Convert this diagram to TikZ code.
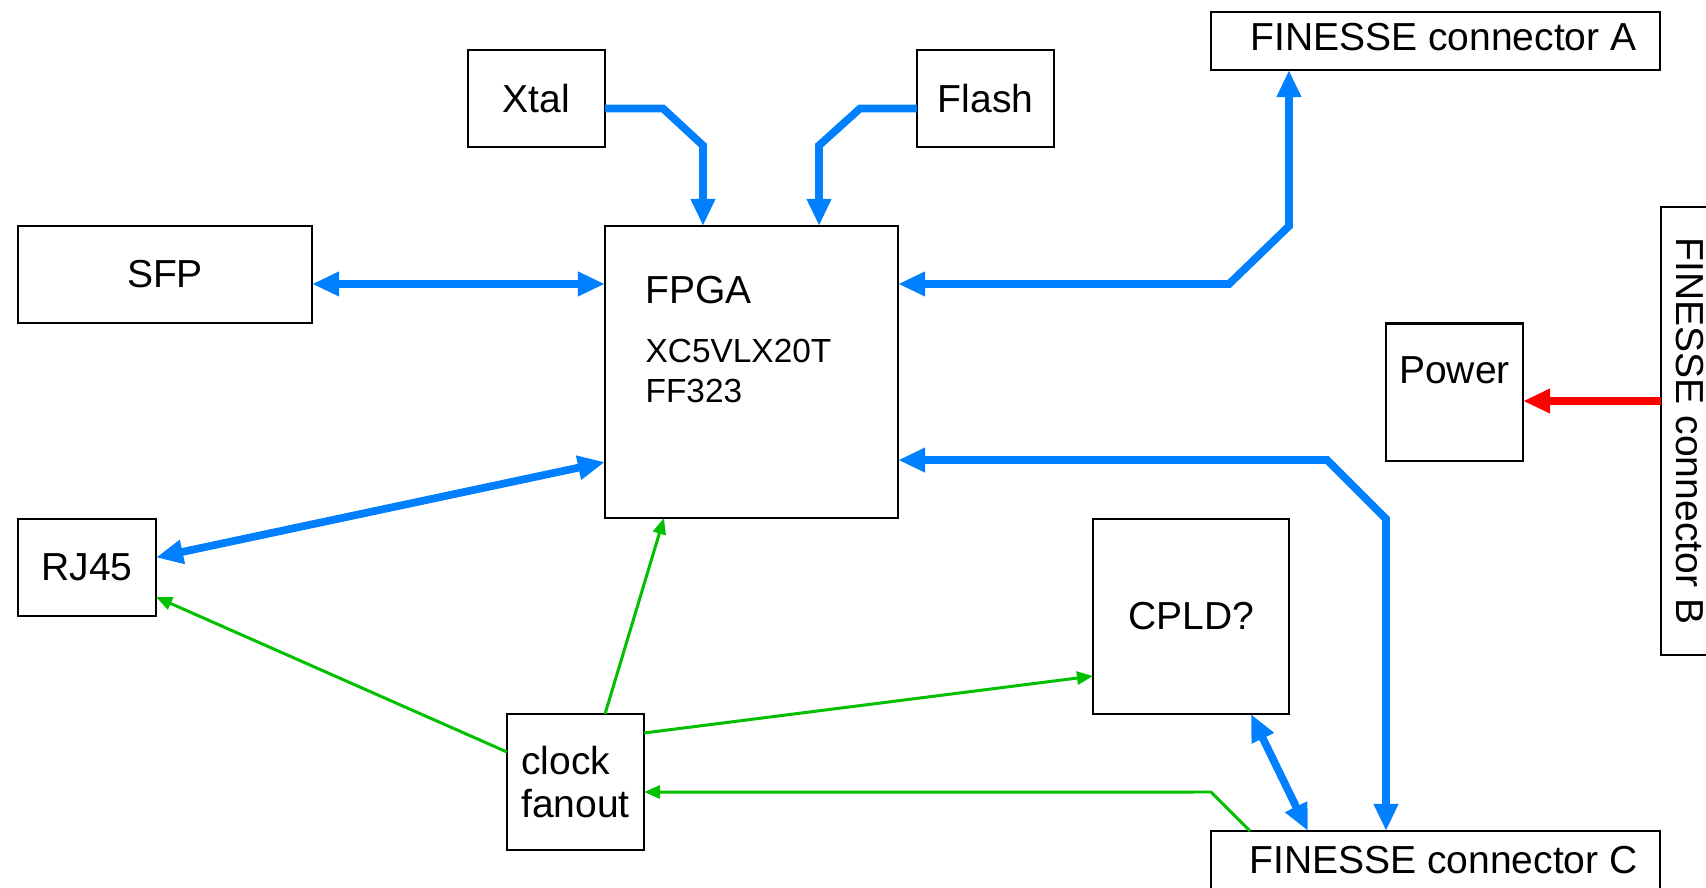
\documentclass[tikz,border=0pt]{standalone}
\usepackage{fontspec}
\setmainfont{Liberation Sans}
\usetikzlibrary{arrows.meta}
\definecolor{busblue}{RGB}{0,128,255}
\definecolor{clkgreen}{RGB}{0,192,0}
\definecolor{pwrred}{RGB}{255,0,0}

\begin{document}
\begin{tikzpicture}[x=0.01cm,y=-0.01cm,font=\fontsize{11.1}{12.2}\selectfont,
  blk/.style={draw,line width=0.6pt,inner sep=0pt,outer sep=0pt,align=center},
  bus/.style={draw=busblue,line width=2.2pt,>={Triangle[length=2.7mm,width=2.3mm]}},
  pwr/.style={draw=pwrred,line width=2.2pt,>={Triangle[length=2.7mm,width=2.3mm]}},
  clk/.style={draw=clkgreen,line width=0.85pt,>={Triangle[length=1.6mm,width=1.3mm]}},
  txt/.style={inner sep=0pt,anchor=base west}]
  \useasboundingbox (0,0) rectangle (1706,887);
  \node[blk,minimum width=1.37cm,minimum height=0.97cm] (Xtal) at (536.5,98.5) {Xtal};
  \node[blk,minimum width=1.37cm,minimum height=0.97cm] (Flash) at (985.5,98.5) {Flash};
  \node[blk,minimum width=4.49cm,minimum height=0.58cm] (FinA) at (1435.5,41) {\hspace*{0.16cm}FINESSE connector A\raisebox{0pt}[0pt][2.5pt]{}};
  \node[blk,minimum width=2.94cm,minimum height=0.97cm] (SFP) at (165,274.5) {SFP};
  \node[blk,minimum width=2.93cm,minimum height=2.92cm] (FPGA) at (751.5,372) {};
  \node[txt] (fpganame) at ([xshift=4mm,yshift=-7.8mm]FPGA.north west) {FPGA};
  \node[txt,align=left,font=\fontsize{9.5}{11.1}\selectfont] (fpgapart)
    at ([xshift=4mm,yshift=-17.6mm]FPGA.north west) {XC5VLX20T\\FF323};
  \node[blk,minimum width=1.37cm,minimum height=1.37cm] (Power) at (1454.5,392) {Power\\\phantom{P}};
  \node[blk,rotate=-90,minimum width=4.48cm,minimum height=0.58cm] (FinB) at (1690,431) {FINESSE connector B};
  \node[blk,minimum width=1.38cm,minimum height=0.97cm] (RJ45) at (87,567.5) {RJ45};
  \node[blk,minimum width=1.96cm,minimum height=1.95cm] (CPLD) at (1191,616.5) {CPLD?};
  \node[blk,minimum width=1.37cm,minimum height=1.36cm,align=left] (clkfan) at (575.5,782) {clock\\fanout};
  \node[blk,minimum width=4.49cm,minimum height=0.58cm] (FinC) at (1435.5,860) {\hspace*{0.16cm}FINESSE connector C};

  \coordinate (sfpin) at ([yshift=-5.8mm]FPGA.north west);
  \coordinate (pwin) at ([yshift=-0.9mm]Power.east);

  \draw[bus,->] ([yshift=-1mm]Xtal.east) -- ++(58,0) -- ++(40,37) -- ([xshift=9.8mm]FPGA.north west);
  \draw[bus,->] ([yshift=-1mm]Flash.west) -- ++(-57,0) -- ++(-41,37) -- ([xshift=21.4mm]FPGA.north west);
  \draw[bus,<->] (SFP.east |- sfpin) -- (sfpin);
  \draw[bus,<->] ([yshift=-5.8mm]FPGA.north east) -- ++(331,0) -- ++(60,-58) -- ([xshift=7.8mm]FinA.south west);
  \draw[bus,<->] ([yshift=1mm]RJ45.east) -- ([yshift=5.6mm]FPGA.south west);
  \draw[bus,<->] ([yshift=5.8mm]FPGA.south east) -- ++(429,0) -- ++(59,59) -- ([xshift=17.5mm]FinC.north west);
  \draw[bus,<->] ([xshift=15.8mm]CPLD.south west) -- ([xshift=9.7mm]FinC.north west);
  \draw[pwr,->] (FinB.south |- pwin) -- (pwin);
  \draw[clk,->] ([xshift=9.8mm]clkfan.north west) -- ([xshift=5.9mm]FPGA.south west);
  \draw[clk,->] ([yshift=3mm]clkfan.west) -- ([yshift=1.9mm]RJ45.south east);
  \draw[clk,->] ([yshift=-1.9mm]clkfan.north east) -- ([yshift=3.8mm]CPLD.south west);
  \draw[clk,->] ([xshift=3.9mm]FinC.north west) -- ++(-39,-39) -- ([yshift=-1mm]clkfan.east);
\end{tikzpicture}
\end{document}
